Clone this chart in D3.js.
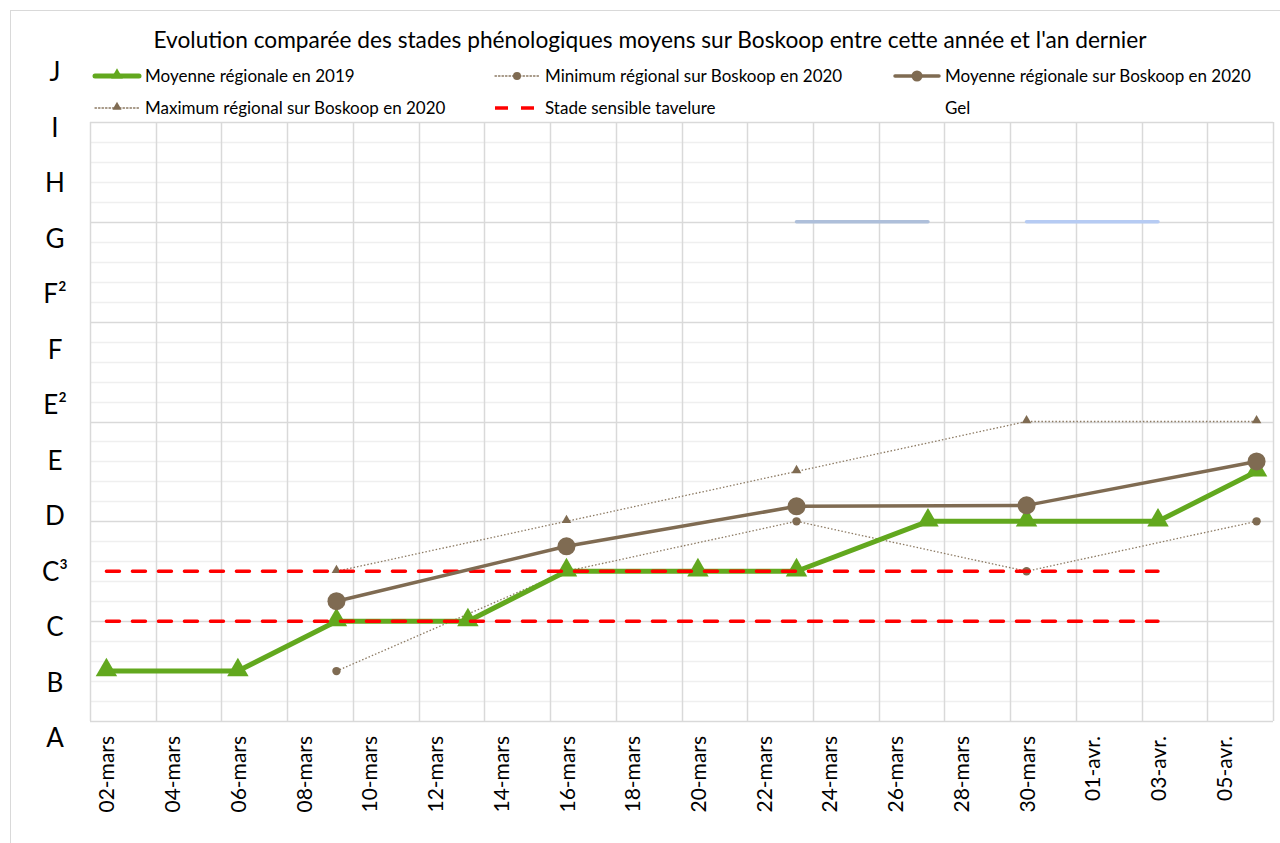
<!DOCTYPE html>
<html>
<head>
<meta charset="utf-8">
<title>Stades phénologiques Boskoop</title>
<script src="https://d3js.org/d3.v7.min.js"></script>
<style>
    body { margin: 0; background: #fff; }
    svg { font-family: Lato, "Open Sans", sans-serif; }
</style>
</head>
<body>
<div id="chart"></div>
<script>
// stade labels (text box on the left)
var stadeLabels = ["A", "B", "C", "C³", "D", "E", "E²", "F", "F²", "G", "H", "I", "J"];
// x tick labels every 2 days
var tickLabels = ["02-mars", "04-mars", "06-mars", "08-mars", "10-mars", "12-mars", "14-mars", "16-mars", "18-mars",
    "20-mars", "22-mars", "24-mars", "26-mars", "28-mars", "30-mars", "01-avr.", "03-avr.", "05-avr."];
var tickDates = ["2020-03-02", "2020-03-04", "2020-03-06", "2020-03-08", "2020-03-10", "2020-03-12", "2020-03-14",
    "2020-03-16", "2020-03-18", "2020-03-20", "2020-03-22", "2020-03-24", "2020-03-26", "2020-03-28", "2020-03-30",
    "2020-04-01", "2020-04-03", "2020-04-05"];

// 2019 regional mean
var dates2019 = ["2020-03-02", "2020-03-06", "2020-03-09", "2020-03-13", "2020-03-16", "2020-03-20", "2020-03-23",
    "2020-03-27", "2020-03-30", "2020-04-03", "2020-04-06"];
var moyenne2019 = [1, 1, 2, 2, 3, 3, 3, 4, 4, 4, 5];

// 2020 Boskoop
var dates2020 = ["2020-03-09", "2020-03-16", "2020-03-23", "2020-03-30", "2020-04-06"];
var moyenne2020 = [2.4, 3.5, 4.3, 4.32, 5.2];
var minimum2020 = [1, 3, 4, 3, 4];
var maximum2020 = [3, 4, 5, 6, 6];

// stade sensible tavelure
var taveDates = ["2020-03-02", "2020-04-03"];
var taveLevels = [2, 3];

// gel periods
var gelStart = ["2020-03-23", "2020-03-30"];
var gelEnd = ["2020-03-27", "2020-04-03"];
var gelLevel = 10;
var gelColors = ["#aebfda", "#b6cbf3"];

var W = 1280, H = 843;
var plot = { left: 90, right: 1273, top: 122, bottom: 721 };

var parse = d3.utcParse("%Y-%m-%d");
var mid = function (s) { return d3.utcHour.offset(parse(s), 12); };

var svg = d3.select("#chart").append("svg")
    .attr("width", W).attr("height", H);

// chart area border
svg.append("rect")
    .attr("x", 10.5).attr("y", 10.5)
    .attr("width", W).attr("height", H)
    .attr("fill", "#fff").attr("stroke", "#d9d9d9");

var x = d3.scaleUtc()
    .domain([parse("2020-03-02"), parse("2020-04-07")])
    .range([plot.left, plot.right]);
var y = d3.scaleLinear()
    .domain([0, 12])
    .range([plot.bottom, plot.top]);

// minor horizontal gridlines
svg.append("g")
    .selectAll("line")
    .data(d3.range(0, 12.01, 0.4).filter(function (v) { return Math.abs(v / 2 - Math.round(v / 2)) > 0.01; }))
    .enter().append("line")
    .attr("x1", plot.left).attr("x2", plot.right)
    .attr("y1", function (d) { return Math.round(y(d)) + 0.5; })
    .attr("y2", function (d) { return Math.round(y(d)) + 0.5; })
    .attr("stroke", "#efefef").attr("stroke-width", 1.5);

// major horizontal gridlines
svg.append("g")
    .selectAll("line")
    .data(d3.range(0, 12.01, 2))
    .enter().append("line")
    .attr("x1", plot.left).attr("x2", plot.right)
    .attr("y1", function (d) { return Math.round(y(d)) + 0.5; })
    .attr("y2", function (d) { return Math.round(y(d)) + 0.5; })
    .attr("stroke", "#d9d9d9").attr("stroke-width", 1.5);

// vertical gridlines every 2 days
var vLines = tickDates.map(parse).concat([parse("2020-04-07")]);
svg.append("g")
    .selectAll("line")
    .data(vLines)
    .enter().append("line")
    .attr("x1", function (d) { return Math.round(x(d)) + 0.5; })
    .attr("x2", function (d) { return Math.round(x(d)) + 0.5; })
    .attr("y1", plot.top).attr("y2", plot.bottom)
    .attr("stroke", "#d9d9d9").attr("stroke-width", 1.5);

// x axis labels
var xAxis = svg.append("g")
    .attr("transform", "translate(0," + plot.bottom + ")")
    .call(d3.axisBottom(x)
        .tickValues(tickDates.map(mid))
        .tickSize(0)
        .tickFormat(function (d, i) { return tickLabels[i]; }));
xAxis.select(".domain").remove();
xAxis.selectAll("text")
    .attr("transform", "rotate(-90)")
    .attr("x", -15).attr("y", 0).attr("dy", "0.36em")
    .style("text-anchor", "end")
    .style("font-family", "Lato, sans-serif")
    .style("font-size", "21px")
    .attr("fill", "#000");

// stade labels on the left
var yl = d3.scalePoint().domain(stadeLabels).range([738, 72]);
svg.append("g")
    .selectAll("text")
    .data(stadeLabels)
    .enter().append("text")
    .attr("x", 55)
    .attr("y", function (d) { return yl(d); })
    .attr("dy", "0.36em")
    .attr("text-anchor", "middle")
    .style("font-size", "26px")
    .attr("fill", "#000")
    .text(function (d) { return d; });

// line helpers
var line = d3.line()
    .x(function (d) { return x(mid(d[0])); })
    .y(function (d) { return y(d[1]); });
var tri = d3.symbol().type(d3.symbolTriangle);

// gel
gelStart.forEach(function (s, i) {
    svg.append("path")
        .attr("d", line([[s, gelLevel], [gelEnd[i], gelLevel]]))
        .attr("stroke", gelColors[i]).attr("stroke-width", 3.5)
        .attr("stroke-linecap", "round").attr("fill", "none");
});

// min / max dotted series
var minPts = dates2020.map(function (d, i) { return [d, minimum2020[i]]; });
var maxPts = dates2020.map(function (d, i) { return [d, maximum2020[i]]; });
[minPts, maxPts].forEach(function (pts) {
    svg.append("path")
        .attr("d", line(pts))
        .attr("stroke", "#8c7a63").attr("stroke-width", 1.3)
        .attr("stroke-dasharray", "1.5,2").attr("fill", "none");
});
svg.append("g").selectAll("circle").data(minPts).enter().append("circle")
    .attr("cx", function (d) { return x(mid(d[0])); })
    .attr("cy", function (d) { return y(d[1]); })
    .attr("r", 4.2).attr("fill", "#7f6b52");
svg.append("g").selectAll("path").data(maxPts).enter().append("path")
    .attr("d", tri.size(40))
    .attr("transform", function (d) { return "translate(" + x(mid(d[0])) + "," + (y(d[1]) - 1) + ")"; })
    .attr("fill", "#7f6b52");

// moyenne 2019
var pts2019 = dates2019.map(function (d, i) { return [d, moyenne2019[i]]; });
svg.append("path")
    .attr("d", line(pts2019))
    .attr("stroke", "#62a81e").attr("stroke-width", 5)
    .attr("stroke-linejoin", "round").attr("fill", "none");
svg.append("g").selectAll("path").data(pts2019).enter().append("path")
    .attr("d", tri.size(200))
    .attr("transform", function (d) { return "translate(" + x(mid(d[0])) + "," + (y(d[1]) - 1) + ")"; })
    .attr("fill", "#62a81e");

// tavelure
taveLevels.forEach(function (lv) {
    svg.append("path")
        .attr("d", line([[taveDates[0], lv], [taveDates[1], lv]]))
        .attr("stroke", "#ff0000").attr("stroke-width", 3.5)
        .attr("stroke-dasharray", "13,13").attr("stroke-linecap", "round")
        .attr("fill", "none");
});

// moyenne 2020
var pts2020 = dates2020.map(function (d, i) { return [d, moyenne2020[i]]; });
svg.append("path")
    .attr("d", line(pts2020))
    .attr("stroke", "#7f6b52").attr("stroke-width", 3.5).attr("fill", "none");
svg.append("g").selectAll("circle").data(pts2020).enter().append("circle")
    .attr("cx", function (d) { return x(mid(d[0])); })
    .attr("cy", function (d) { return y(d[1]); })
    .attr("r", 9).attr("fill", "#7f6b52");

// title
svg.append("text")
    .attr("x", 650).attr("y", 48)
    .attr("text-anchor", "middle")
    .style("font-size", "22.7px")
    .attr("fill", "#000")
    .text("Evolution comparée des stades phénologiques moyens sur Boskoop entre cette année et l'an dernier");

// legend
var legend = [
    { label: "Moyenne régionale en 2019", x: 95, y: 76, color: "#62a81e", w: 5, dash: null, marker: "bigtri" },
    { label: "Minimum régional sur Boskoop en 2020", x: 495, y: 76, color: "#8c7a63", w: 1.3, dash: "1.5,2", marker: "dot" },
    { label: "Moyenne régionale sur Boskoop en 2020", x: 895, y: 76, color: "#7f6b52", w: 3.5, dash: null, marker: "circle" },
    { label: "Maximum régional sur Boskoop en 2020", x: 95, y: 108, color: "#8c7a63", w: 1.3, dash: "1.5,2", marker: "tri" },
    { label: "Stade sensible tavelure", x: 495, y: 108, color: "#ff0000", w: 3.5, dash: "13,13", marker: null },
    { label: "Gel", x: 895, y: 108, color: "none", w: 0, dash: null, marker: null }
];
var lg = svg.append("g").selectAll("g").data(legend).enter().append("g")
    .attr("transform", function (d) { return "translate(" + d.x + "," + d.y + ")"; });
lg.append("line")
    .attr("x1", 0).attr("x2", 44)
    .attr("stroke", function (d) { return d.color; })
    .attr("stroke-width", function (d) { return d.w; })
    .attr("stroke-dasharray", function (d) { return d.dash; })
    .attr("stroke-linecap", function (d) { return d.dash && d.w > 2 ? "butt" : "round"; });
lg.filter(function (d) { return d.marker === "bigtri"; }).append("path")
    .attr("d", tri.size(60)).attr("transform", "translate(22,-1)").attr("fill", "#62a81e");
lg.filter(function (d) { return d.marker === "tri"; }).append("path")
    .attr("d", tri.size(36)).attr("transform", "translate(22,-1)").attr("fill", "#7f6b52");
lg.filter(function (d) { return d.marker === "dot"; }).append("circle")
    .attr("cx", 22).attr("r", 4).attr("fill", "#7f6b52");
lg.filter(function (d) { return d.marker === "circle"; }).append("circle")
    .attr("cx", 22).attr("r", 5.5).attr("fill", "#7f6b52");
lg.append("text")
    .attr("x", 50).attr("dy", "0.35em")
    .style("font-size", "17px")
    .attr("fill", "#000")
    .text(function (d) { return d.label; });
</script>
</body>
</html>
